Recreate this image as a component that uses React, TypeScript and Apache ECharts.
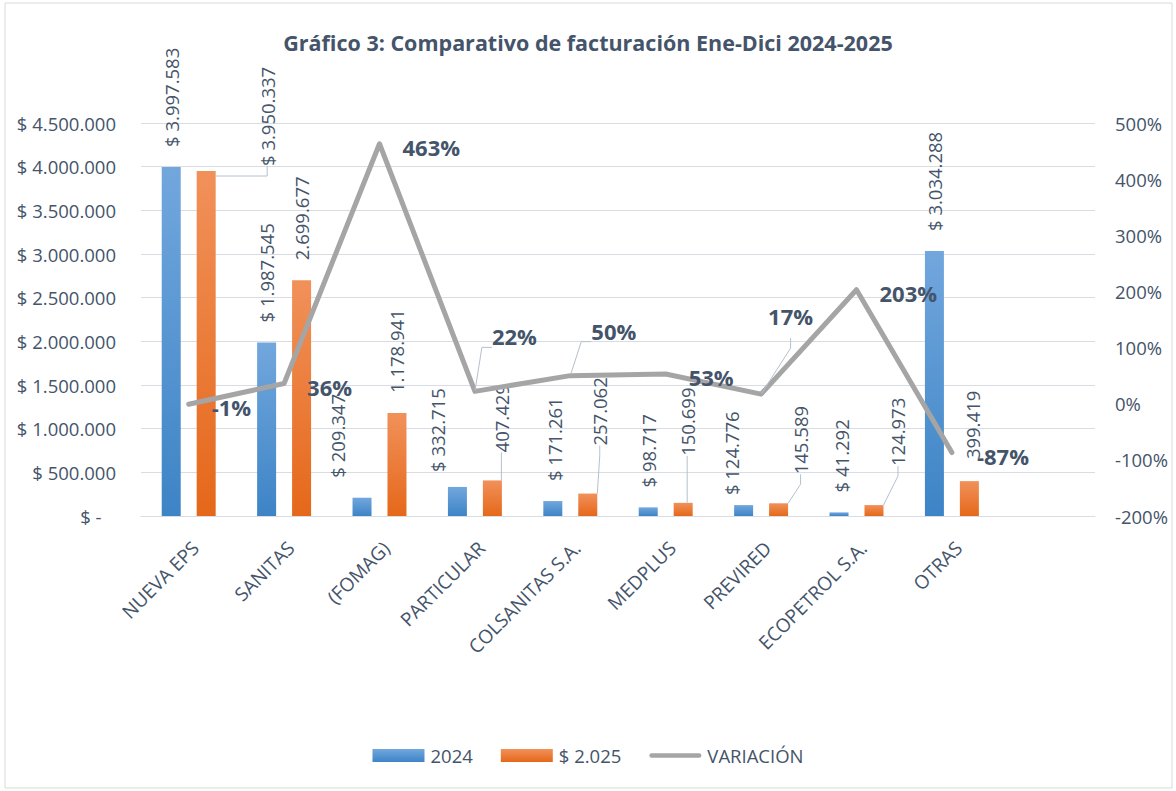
import React, { useEffect, useRef } from "react";
import * as echarts from "echarts";

const categories = [
  "NUEVA EPS",
  "SANITAS",
  "(FOMAG)",
  "PARTICULAR",
  "COLSANITAS S.A.",
  "MEDPLUS",
  "PREVIRED",
  "ECOPETROL S.A.",
  "OTRAS",
  "",
];
const values2024 = [3997583, 1987545, 209347, 332715, 171261, 98717, 124776, 41292, 3034288];
const values2025 = [3950337, 2699677, 1178941, 407429, 257062, 150699, 145589, 124973, 399419];
const variation = [-0.01, 0.36, 4.63, 0.22, 0.5, 0.53, 0.17, 2.03, -0.87];
const dollar2025 = [true, false, false, false, false, false, false, false, false];

const seriesNames = ["2024", "$ 2.025", "VARIACIÓN"];
const titleText = "Gráfico 3: Comparativo de facturación Ene-Dici 2024-2025";

// label displacement in screen pixels (dx, dy) relative to the default place
const shift2024: [number, number][] = [[0, 0], [0, 0], [-25, 0], [-20, 5], [2, 0], [0, 0], [-12, 10], [2, 0], [0, 0]];
const shift2025: [number, number][] = [[61, 15], [0, 0], [0, 0], [9, -8], [12, -28], [4, -27], [22, -9], [24, -19], [3, -2]];
const leader2025 = [true, false, false, true, true, true, true, true, false];
const offsetVar: [number, number][] = [[0, 3], [0, 3], [0, 3], [-6, -55], [-2, -45], [0, 3], [-16, -78], [0, 3], [2, 3]];
const leaderVar = [false, false, false, true, true, false, true, false, false];

const FONT = "'Open Sans', sans-serif";
const TXT = "#44546a";
const GRID = "#d9dde3";
const LEADER = "#b4c0cf";

const fmt = (n: number) => String(Math.round(n)).replace(/\B(?=(\d{3})+(?!\d))/g, ".");
// rotated (90deg) label: offset is applied in the label's own frame
const rot = (s: [number, number]) => [-s[1], s[0]];

export default function App() {
  const ref = useRef<HTMLDivElement>(null);
  useEffect(() => {
    if (!ref.current) return;
    const chart = echarts.init(ref.current, undefined, { renderer: "svg" });

    const blue = new echarts.graphic.LinearGradient(0, 0, 0, 1, [
      { offset: 0, color: "#72a7dd" },
      { offset: 1, color: "#3d84c6" },
    ]);
    const orange = new echarts.graphic.LinearGradient(0, 0, 0, 1, [
      { offset: 0, color: "#f1915a" },
      { offset: 1, color: "#e5681a" },
    ]);

    const barLabel = {
      show: true,
      position: "top",
      rotate: 90,
      align: "left",
      verticalAlign: "middle",
      distance: 20,
      fontFamily: FONT,
      fontSize: 18.5,
      color: TXT,
    };

    const data2024 = values2024.map((v, i) => ({
      value: v,
      label: { offset: rot(shift2024[i]) },
    }));
    const data2025 = values2025.map((v, i) => ({
      value: v,
      label: {
        offset: rot(shift2025[i]),
        formatter: (dollar2025[i] ? "$ " : "") + fmt(v),
      },
      labelLine: { show: leader2025[i] },
    }));
    const dataVar = variation.map((v, i) => ({
      value: v,
      label: { offset: offsetVar[i] },
      labelLine: { show: leaderVar[i] },
    }));

    chart.setOption({
      animation: false,
      backgroundColor: "#ffffff",
      textStyle: { fontFamily: FONT },
      title: {
        text: titleText,
        left: "center",
        top: 26,
        textStyle: { fontFamily: FONT, fontSize: 21.5, fontWeight: "bold", color: TXT },
      },
      graphic: [
        {
          type: "rect",
          shape: { x: 5, y: 3, width: 1167, height: 785 },
          style: { fill: "none", stroke: "#d9d9d9", lineWidth: 1 },
          silent: true,
        },
      ],
      legend: {
        bottom: 21,
        left: "center",
        itemWidth: 52,
        itemHeight: 13,
        itemGap: 28,
        textStyle: { fontFamily: FONT, fontSize: 18.5, color: TXT, padding: [0, 0, 0, 1] },
        data: [
          { name: seriesNames[0], icon: "rect" },
          { name: seriesNames[1], icon: "rect" },
          {
            name: seriesNames[2],
            icon: "path://M2.5,0 H54.5 A2.5,2.5 0 0 1 54.5,5 H2.5 A2.5,2.5 0 0 1 2.5,0 Z",
            itemStyle: { color: "#a5a5a5" },
          },
        ],
      },
      grid: { left: 141, right: 81, top: 123, bottom: 275, containLabel: false },
      xAxis: {
        type: "category",
        data: categories,
        axisTick: { show: false },
        axisLine: { lineStyle: { color: GRID, width: 1 } },
        axisLabel: {
          interval: 0,
          rotate: 45,
          margin: 22,
          verticalAlign: "top",
          fontFamily: FONT,
          fontSize: 19,
          color: TXT,
        },
      },
      yAxis: [
        {
          type: "value",
          min: 0,
          max: 4500000,
          interval: 500000,
          axisLine: { show: false },
          axisTick: { show: false },
          splitLine: { lineStyle: { color: GRID, width: 1 } },
          axisLabel: {
            margin: 25,
            fontFamily: FONT,
            fontSize: 18.5,
            color: TXT,
            formatter: (v: number) => (v === 0 ? "$ -   " : "$ " + fmt(v)),
          },
        },
        {
          type: "value",
          min: -2,
          max: 5,
          interval: 1,
          alignTicks: false,
          axisLine: { show: false },
          axisTick: { show: false },
          splitLine: { show: false },
          axisLabel: {
            margin: 20,
            fontFamily: FONT,
            fontSize: 18.5,
            color: TXT,
            formatter: (v: number) => Math.round(v * 100) + "%",
          },
        },
      ],
      series: [
        {
          name: seriesNames[0],
          type: "bar",
          data: data2024,
          barWidth: 19,
          barGap: "84%",
          itemStyle: { color: blue },
          label: { ...barLabel, formatter: (p: any) => "$ " + fmt(p.value) },
          labelLine: { show: false, length2: 10, lineStyle: { color: LEADER, width: 1 } },
        },
        {
          name: seriesNames[1],
          type: "bar",
          data: data2025,
          barWidth: 19,
          barGap: "84%",
          itemStyle: { color: orange },
          label: { ...barLabel },
          labelLine: { show: false, length2: 10, lineStyle: { color: LEADER, width: 1 } },
        },
        {
          name: seriesNames[2],
          type: "line",
          yAxisIndex: 1,
          data: dataVar,
          symbol: "circle",
          symbolSize: 2,
          showSymbol: true,
          itemStyle: { color: "#a5a5a5" },
          lineStyle: { color: "#a5a5a5", width: 5, cap: "round", join: "round" },
          z: 5,
          label: {
            show: true,
            position: "right",
            distance: 22,
            fontFamily: FONT,
            fontSize: 22,
            fontWeight: "bold",
            color: TXT,
            formatter: (p: any) => Math.round(p.value * 100) + "%",
          },
          labelLine: { show: false, length2: 10, lineStyle: { color: LEADER, width: 1 } },
        },
      ],
    });
    return () => chart.dispose();
  }, []);

  return (
    <div
      ref={ref}
      style={{ position: "absolute", left: 0, top: 0, width: 1176, height: 791, background: "#fff" }}
    />
  );
}
